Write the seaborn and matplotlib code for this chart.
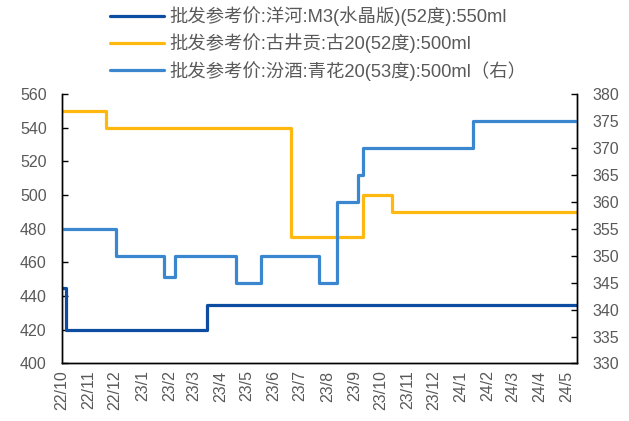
import pandas as pd
import matplotlib
matplotlib.use("Agg")
import matplotlib.pyplot as plt
import seaborn as sns

# change points (date, price) for each series; held flat until the next change
yanghe_dates = ["2022-10-01", "2022-10-05", "2023-03-16", "2024-05-13"]
yanghe_vals = [445, 420, 435, 435]

gujing_dates = ["2022-10-01", "2022-11-20", "2023-06-21", "2023-09-11", "2023-10-14", "2024-05-13"]
gujing_vals = [550, 540, 475, 500, 490, 490]

fenjiu_dates = ["2022-10-01", "2022-12-02", "2023-01-26", "2023-02-07", "2023-04-18",
                "2023-05-17", "2023-07-23", "2023-08-12", "2023-09-05", "2023-09-11",
                "2024-01-15", "2024-05-13"]
fenjiu_vals = [355, 350, 346, 350, 345, 350, 345, 360, 365, 370, 375, 375]

month_ticks = pd.date_range("2022-10-01", "2024-05-01", freq="MS")
month_labels = ["22/10", "22/11", "22/12", "23/1", "23/2", "23/3", "23/4", "23/5", "23/6",
                "23/7", "23/8", "23/9", "23/10", "23/11", "23/12", "24/1", "24/2", "24/3",
                "24/4", "24/5"]

names = ["批发参考价:洋河:M3(水晶版)(52度):550ml",
         "批发参考价:古井贡:古20(52度):500ml",
         "批发参考价:汾酒:青花20(53度):500ml（右）"]
colors = ["#0C4DA2", "#FFB810", "#3A87CF"]

sns.set_style("white")
plt.rcParams["font.family"] = ["Liberation Sans", "Noto Sans CJK SC", "DejaVu Sans"]
grey = "#595959"

fig = plt.figure(figsize=(6.29, 4.21), dpi=100)
ax = fig.add_axes([0.0986, 0.1366, 0.8184, 0.6401])
ax2 = ax.twinx()

lw = 2.3
sns.lineplot(x=pd.to_datetime(yanghe_dates), y=yanghe_vals, ax=ax, color=colors[0],
             lw=lw, drawstyle="steps-post", legend=False)
sns.lineplot(x=pd.to_datetime(gujing_dates), y=gujing_vals, ax=ax, color=colors[1],
             lw=lw, drawstyle="steps-post", legend=False)
sns.lineplot(x=pd.to_datetime(fenjiu_dates), y=fenjiu_vals, ax=ax2, color=colors[2],
             lw=lw, drawstyle="steps-post", legend=False)

ax.set_ylim(400, 560)
ax.set_yticks(range(400, 561, 20))
ax2.set_ylim(330, 380)
ax2.set_yticks(range(330, 381, 5))
ax.set_xlim(pd.Timestamp("2022-10-01"), pd.Timestamp("2024-05-13"))
ax.set_xticks(month_ticks)
ax.set_xticklabels(month_labels, rotation=90)

for a in (ax, ax2):
    a.spines["top"].set_visible(False)
    for s in ("left", "right", "bottom"):
        a.spines[s].set_color("black")
        a.spines[s].set_linewidth(1.0)
    a.tick_params(direction="in", length=4, width=1, colors="black",
                  labelcolor=grey, labelsize=11.5)
    a.set_xlabel("")
    a.set_ylabel("")
ax.tick_params(axis="x", pad=5)
ax.tick_params(axis="y", pad=11)
ax2.tick_params(axis="y", pad=11)

handles = ax.get_lines() + ax2.get_lines()
fig.legend(handles, names, loc="upper left", bbox_to_anchor=(0.165, 1.0), ncol=1,
           frameon=False, fontsize=13.2, labelcolor=grey, handlelength=2.95,
           handletextpad=0.27, labelspacing=0.4, borderaxespad=0.15, borderpad=0.2)

fig.savefig("out.png", dpi=100)
